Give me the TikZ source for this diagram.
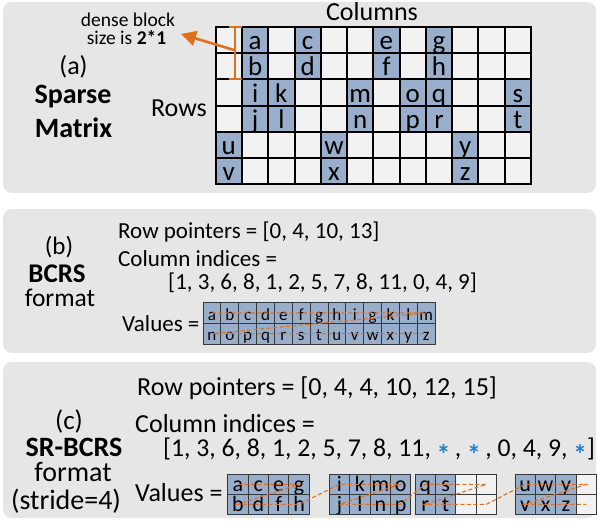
\documentclass[tikz,border=0pt]{standalone}
\usepackage{fontspec}
\setmainfont{Carlito}
\usetikzlibrary{arrows.meta}
\definecolor{panelgray}{HTML}{E6E6E6}
\definecolor{cellblue}{HTML}{99AECB}
\definecolor{cellempty}{HTML}{F2F2F2}
\definecolor{orangec}{HTML}{E0701E}
\definecolor{astblue}{HTML}{1F82D0}
\definecolor{vline}{HTML}{383838}
\newcommand\fsz[1]{\fontsize{#1}{#1}\selectfont}
\newcommand\blueast{{\color{astblue}\raisebox{-8pt}{\fsz{28}\textbf{*}}}}
\begin{document}
\begin{tikzpicture}[x=1pt,y=-1pt,
  panel/.style={fill=panelgray, draw=none, rounded corners=9pt},
  lt/.style={inner sep=0pt, anchor=base west},
  ct/.style={inner sep=0pt, anchor=base},
  mtxt/.style={inner sep=0pt, anchor=base, font=\fsz{27}},
  btxt/.style={inner sep=0pt, anchor=base, font=\fsz{17}},
  ctxt/.style={inner sep=0pt, anchor=base, font=\fsz{22}},
  gridline/.style={line width=2pt, black, line cap=rect},
  valline/.style={line width=0.9pt, vline, line cap=rect},
  bracket/.style={draw=orangec, line width=2.6pt},
  flow/.style={draw=orangec, line width=1.1pt, dash pattern=on 4pt off 2.5pt}
]
\useasboundingbox (0,0) rectangle (597,523);
% panels
\fill[panel] (3,2) rectangle (596,193);
\fill[panel] (3,209) rectangle (596,353);
\fill[panel] (3,362) rectangle (596,518);

% ---------- (a) sparse matrix ----------
\def\gx{215.7}\def\gy{26.7}\def\gc{26.27}
\fill[cellempty] (\gx,\gy) rectangle ({\gx+12*\gc},{\gy+6*\gc});
\foreach \r/\c/\l in {0/1/a,0/3/c,0/6/e,0/8/g,1/1/b,1/3/d,1/6/f,1/8/h,
  2/1/i,2/2/k,2/5/m,2/7/o,2/8/q,2/11/s,3/1/j,3/2/l,3/5/n,3/7/p,3/8/r,3/11/t,
  4/0/u,4/4/w,4/9/y,5/0/v,5/4/x,5/9/z}{
  \fill[cellblue] ({\gx+\c*\gc},{\gy+\r*\gc}) rectangle ++(\gc,\gc);
  \node[mtxt] (m-\l) at ({\gx+(\c+0.5)*\gc},{\gy+(\r+1)*\gc-3.5}) {\l};
}
\foreach \i in {0,...,12}
  \draw[gridline] ({\gx+\i*\gc},\gy) -- ++(0,{6*\gc});
\foreach \j in {0,...,6}
  \draw[gridline] (\gx,{\gy+\j*\gc}) -- ++({12*\gc},0);

\node[ct, font=\fsz{26}] (columns) at (372,20.7) {Columns};
\node[ct, font=\fsz{26}] (rows) at (179,116.7) {Rows};
\node[ct, font=\fsz{26}] (alab) at (73.5,74) {(a)};
\node[ct, font=\bfseries\fsz{28}] (sparse) at (73,103.3) {Sparse};
\node[ct, font=\bfseries\fsz{28}] (matrix) at (73.5,137.3) {Matrix};
\node[ct, font=\fsz{19.5}] (dense1) at (128,26.7) {dense block};
\node[ct, font=\fsz{19.5}] (dense2) at (126.5,44.3) {size is \textbf{2*1}};

\coordinate (brT) at (235,27);
\coordinate (brB) at (235,79);
\coordinate (brM) at (234,50);
\coordinate (tip) at (181,34);
\draw[bracket] (brT) -- (brB);
\draw[bracket] ([xshift=-6.5pt]brT) -- ([xshift=6.5pt]brT);
\draw[bracket] ([xshift=-6.5pt]brB) -- ([xshift=6.5pt]brB);
\draw[bracket, -{Triangle[length=15pt,width=15pt]}] (brM) -- (tip);

% ---------- (b) BCRS ----------
\node[ct, font=\fsz{25}] (blab) at (59,254) {(b)};
\node[ct, font=\bfseries\fsz{27}] (bcrs) at (57,282) {BCRS};
\node[ct, font=\fsz{25.5}] (bfmt) at (60,306.5) {format};
\node[lt, font=\fsz{23}] (brow) at (118,238.3) {Row pointers = [0, 4, 10, 13]};
\node[lt, font=\fsz{23}] (bcol) at (118,266.7) {Column indices =};
\node[lt, font=\fsz{23}] (bcolv) at (168,289.3) {[1, 3, 6, 8, 1, 2, 5, 7, 8, 11, 0, 4, 9]};
\node[lt, font=\fsz{23}] (bval) at (122,331) {Values =};

\def\bx{203}\def\by{302.7}\def\bw{17.85}\def\bh{20.65}
\fill[cellblue] (\bx,\by) rectangle ({\bx+13*\bw},{\by+2*\bh});
\foreach \i in {0,...,13}
  \draw[valline] ({\bx+\i*\bw},\by) -- ++(0,{2*\bh});
\foreach \j in {0,1,2}
  \draw[valline] (\bx,{\by+\j*\bh}) -- ++({13*\bw},0);
\foreach \l [count=\i from 0] in {a,b,c,d,e,f,g,h,i,g,k,l,m}{
  \coordinate (b1-\i) at ({\bx+(\i+0.5)*\bw},{\by+0.5*\bh});
  \node[btxt] (bt1-\i) at ({\bx+(\i+0.5)*\bw},{\by+\bh-3.2}) {\l};
}
\foreach \l [count=\i from 0] in {n,o,p,q,r,s,t,u,v,w,x,y,z}{
  \coordinate (b2-\i) at ({\bx+(\i+0.5)*\bw},{\by+1.5*\bh});
  \node[btxt] (bt2-\i) at ({\bx+(\i+0.5)*\bw},{\by+2*\bh-3.2}) {\l};
}
\draw[flow] (b1-0) -- (b1-12) -- (b2-0) -- (b2-12);

% ---------- (c) SR-BCRS ----------
\node[ct, font=\fsz{27}] (clab) at (69,429) {(c)};
\node[ct, font=\bfseries\fsz{28}] (srbcrs) at (74,456) {SR-BCRS};
\node[ct, font=\fsz{28}] (cfmt) at (73,481.7) {format};
\node[ct, font=\fsz{28}] (cstr) at (66,509.3) {(stride=4)};
\node[lt, font=\fsz{26}] (crow) at (137,395) {Row pointers = [0, 4, 4, 10, 12, 15]};
\node[lt, font=\fsz{26}] (ccol) at (135,432.7) {Column indices =};
\node[lt, font=\fsz{25.7}] (ccolv) at (163,456.7) {[1, 3, 6, 8, 1, 2, 5, 7, 8, 11, \blueast\,, \blueast\,, 0, 4, 9, \blueast]};
\node[lt, font=\fsz{26}] (cval) at (135,501.7) {Values =};

\def\cy{474.3}\def\cw{20.4}\def\ch{20}
\foreach \g/\x in {1/227.7,2/329.3,3/415,4/515}{
  \fill[cellempty] (\x,\cy) rectangle ({\x+4*\cw},{\cy+2*\ch});
  \foreach \r in {0,1}{
    \foreach \c in {0,...,3}{
      \coordinate (c\g-\r-\c) at ({\x+(\c+0.5)*\cw},{\cy+(\r+0.5)*\ch});
    }
  }
}
\foreach \g/\x/\r/\c/\l in {1/227.7/0/0/a,1/227.7/0/1/c,1/227.7/0/2/e,1/227.7/0/3/g,
  1/227.7/1/0/b,1/227.7/1/1/d,1/227.7/1/2/f,1/227.7/1/3/h,
  2/329.3/0/0/i,2/329.3/0/1/k,2/329.3/0/2/m,2/329.3/0/3/o,
  2/329.3/1/0/j,2/329.3/1/1/l,2/329.3/1/2/n,2/329.3/1/3/p,
  3/415/0/0/q,3/415/0/1/s,3/415/1/0/r,3/415/1/1/t,
  4/515/0/0/u,4/515/0/1/w,4/515/0/2/y,4/515/1/0/v,4/515/1/1/x,4/515/1/2/z}{
  \fill[cellblue] ({\x+\c*\cw},{\cy+\r*\ch}) rectangle ++(\cw,\ch);
  \node[ctxt] (ct-\l) at ({\x+(\c+0.5)*\cw},{\cy+(\r+1)*\ch-2.8}) {\l};
}
\foreach \x in {227.7,329.3,415,515}{
  \foreach \i in {0,...,4}
    \draw[valline] ({\x+\i*\cw},\cy) -- ++(0,{2*\ch});
  \foreach \j in {0,1,2}
    \draw[valline] (\x,{\cy+\j*\ch}) -- ++({4*\cw},0);
}
\draw[flow] (c1-0-0) -- (c1-0-3) -- (c1-1-0) -- (c1-1-3)
  -- (c2-0-0) -- (c2-0-3) -- (c2-1-0) -- (c2-1-3)
  -- (c3-0-0) -- (c3-0-3) -- (c3-1-0) -- (c3-1-3)
  -- (c4-0-0) -- (c4-0-3) -- (c4-1-0) -- (c4-1-3);
\end{tikzpicture}
\end{document}
